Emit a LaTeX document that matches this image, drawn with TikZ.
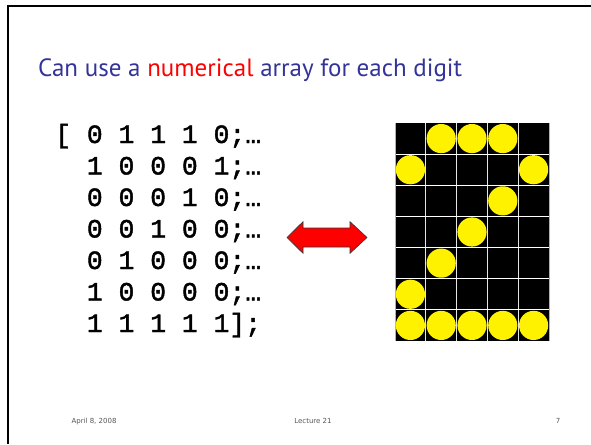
\documentclass[tikz,border=0pt]{standalone}
\usepackage{fontspec}
\setmainfont{Liberation Sans}
\newfontfamily\titlefont{PT Sans}
\newfontfamily\codefont[BoldFont={Liberation Mono},BoldFeatures={FakeBold=1.6}]{Liberation Mono}
\newfontfamily\footfont{DejaVu Sans}
\definecolor{titleblue}{HTML}{333399}
\definecolor{footgray}{HTML}{555555}
\tikzset{
  codeline/.style={anchor=base west, inner sep=0pt, font=\codefont\bfseries\fontsize{26.4}{30}\selectfont},
  foot/.style={anchor=base, inner sep=0pt, text=footgray, font=\footfont\fontsize{7}{8}\selectfont},
  dotcell/.style={fill=yellow, draw=none},
}
\begin{document}
\begin{tikzpicture}[x=1pt,y=-1pt]
\useasboundingbox (0,0) rectangle (591,444);
% slide frame (left and top edges)
\draw[line width=2pt] (8,444) -- (8,6) -- (591,6);
% title
\node[anchor=base west, inner sep=0pt, text=titleblue, font=\titlefont\fontsize{25}{30}\selectfont] (title) at (38,77)
  {Can use a \textcolor{red}{numerical} array for each digit};
% matrix text
\node[codeline] (r1) at (55,143) {[ 0 1 1 1 0;…};
\node[codeline] (r2) at (55,174.5) {\ \ 1 0 0 0 1;…};
\node[codeline] (r3) at (55,206) {\ \ 0 0 0 1 0;…};
\node[codeline] (r4) at (55,237.5) {\ \ 0 0 1 0 0;…};
\node[codeline] (r5) at (55,269) {\ \ 0 1 0 0 0;…};
\node[codeline] (r6) at (55,300.5) {\ \ 1 0 0 0 0;…};
\node[codeline] (r7) at (55,332) {\ \ 1 1 1 1 1];};
% double arrow
\draw[fill=red, draw=black!80, line width=0.6pt, line join=miter]
  (287,237.5) -- (303,221.7) -- (303,228) -- (350,228) -- (350,221.7) -- (367,237.5)
  -- (350,253.3) -- (350,247) -- (303,247) -- (303,253.3) -- cycle;
% grid
\fill[black] (395,123) rectangle (549,341);
\foreach \i in {1,...,4} {
  \draw[white!80!gray, line width=1pt] ({395+\i*30.8},123) -- ({395+\i*30.8},341);
}
\foreach \j in {1,...,6} {
  \draw[white, line width=1pt] (395,{123+\j*31.14}) -- (549,{123+\j*31.14});
}
\draw[gray!60, line width=0.8pt] (395,123) -- (395,341) (549,123) -- (549,341);
\foreach \row/\bits in {0/{0,1,1,1,0},1/{1,0,0,0,1},2/{0,0,0,1,0},3/{0,0,1,0,0},4/{0,1,0,0,0},5/{1,0,0,0,0},6/{1,1,1,1,1}} {
  \foreach \b [count=\c from 0] in \bits {
    \ifnum\b=1
      \fill[dotcell] ({395+(\c+0.5)*30.8},{123+(\row+0.5)*31.14}) circle (14.6);
    \fi
  }
}
% footer
\node[foot] (date) at (94,423) {April 8, 2008};
\node[foot] (lect) at (313,423) {Lecture 21};
\node[foot] (page) at (558,423) {7};
\end{tikzpicture}
\end{document}
